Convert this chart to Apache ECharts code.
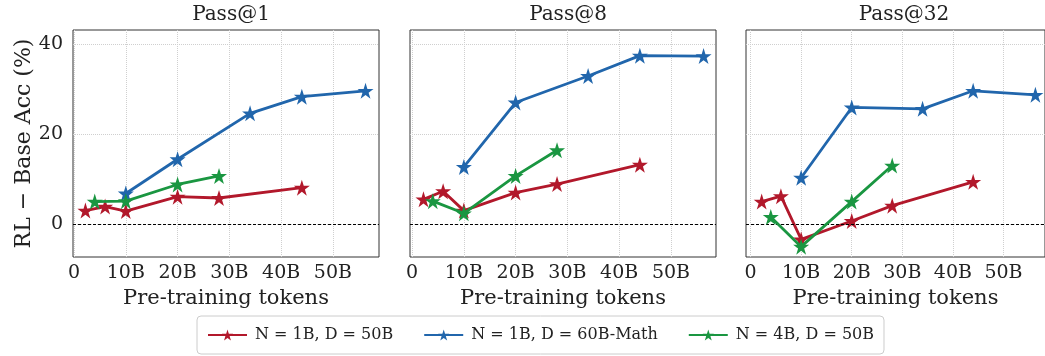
<!DOCTYPE html>
<html>
<head>
<meta charset="utf-8">
<script src="https://cdn.jsdelivr.net/npm/echarts@6/dist/echarts.min.js"></script>
<style>
  html, body { margin: 0; padding: 0; background: #fff; }
  #chart { width: 1045px; height: 356px; }
</style>
</head>
<body>
<div id="chart"></div>
<script>
// pre-training tokens (B) for each run
var xRed = [2.2, 6, 10, 20, 28, 44]
var xBlue = [10, 20, 34, 44, 56.3]
var xGreen = [4, 10, 20, 28]

var panelTitles = ['Pass@1', 'Pass@8', 'Pass@32']
var seriesNames = ['N = 1B, D = 50B', 'N = 1B, D = 60B-Math', 'N = 4B, D = 50B']

// RL - Base Acc (%)
var red1 = [3.0, 3.9, 2.9, 6.1, 5.8, 8.1]
var blue1 = [6.8, 14.4, 24.6, 28.3, 29.6]
var green1 = [5.0, 5.1, 8.8, 10.7]

var red8 = [5.5, 7.3, 3.0, 7.0, 8.9, 13.2]
var blue8 = [12.7, 27.0, 32.9, 37.4, 37.3]
var green8 = [5.1, 2.4, 10.7, 16.4]

var red32 = [5.0, 6.2, -3.4, 0.7, 4.1, 9.4]
var blue32 = [10.3, 25.9, 25.6, 29.6, 28.7]
var green32 = [1.6, -5.0, 5.0, 13.0]

var xTicks = [0, 10, 20, 30, 40, 50]
var yTicks = [0, 20, 40]

var colors = ['#b2182b', '#2166ac', '#1a9641']
var star = 'path://M50,0 L61.2,34.5 L97.6,34.5 L68.2,55.9 L79.4,90.5 L50,69.1 L20.6,90.5 L31.8,55.9 L2.4,34.5 L38.8,34.5 Z'
var font = 'DejaVu Serif'

var chart = echarts.init(document.getElementById('chart'))

var gridLeft = [73, 410, 746]
var xMin = [-0.2, -0.4, -0.9]
var xMax = [58.9, 58.7, 58.2]

function pairs (xs, ys) {
  return xs.map(function (x, i) { return [x, ys[i]] })
}

var panelData = [
  [red1, blue1, green1],
  [red8, blue8, green8],
  [red32, blue32, green32]
]
var xsList = [xRed, xBlue, xGreen]

var grids = []
var xAxes = []
var yAxes = []
var titles = []
var series = []

for (var p = 0; p < 3; p++) {
  grids.push({
    left: gridLeft[p], top: 30, width: 306, height: 227,
    show: true, borderColor: '#333', borderWidth: 1, backgroundColor: '#fff'
  })
  titles.push({
    text: panelTitles[p],
    left: gridLeft[p] + 153,
    top: 0,
    textAlign: 'center',
    textStyle: { fontFamily: font, fontSize: 20, fontWeight: 'normal', color: '#222' }
  })
  xAxes.push({
    type: 'value', gridIndex: p, min: xMin[p], max: xMax[p],
    name: 'Pre-training tokens', nameLocation: 'middle', nameGap: 28,
    nameTextStyle: { fontFamily: font, fontSize: 21, color: '#222' },
    axisLine: { show: false },
    axisTick: { show: false, customValues: xTicks },
    axisLabel: {
      customValues: xTicks, margin: 7,
      fontFamily: font, fontSize: 19, color: '#222',
      formatter: function (v) { return v === 0 ? '0' : v + 'B' }
    },
    splitLine: { show: true, lineStyle: { color: '#cfcfcf', type: 'dotted', width: 1 } }
  })
  yAxes.push({
    type: 'value', gridIndex: p, min: -7.3, max: 43.1,
    name: p === 0 ? 'RL \u2212 Base Acc (%)' : '',
    nameLocation: 'middle', nameGap: 37,
    nameTextStyle: { fontFamily: font, fontSize: 22, color: '#222' },
    axisLine: { show: false },
    axisTick: { show: false, customValues: yTicks },
    axisLabel: {
      show: p === 0, customValues: yTicks, margin: 10,
      fontFamily: font, fontSize: 19, color: '#222'
    },
    splitLine: { show: true, lineStyle: { color: '#cfcfcf', type: 'dotted', width: 1 } }
  })
  for (var s = 0; s < 3; s++) {
    var item = {
      name: seriesNames[s],
      type: 'line',
      xAxisIndex: p, yAxisIndex: p,
      data: pairs(xsList[s], panelData[p][s]),
      symbol: star, symbolSize: 16,
      color: colors[s],
      lineStyle: { width: 2.8, color: colors[s] },
      itemStyle: { color: colors[s] },
      animation: false,
      z: 3 + s
    }
    if (s === 0) {
      // zero reference line
      item.markLine = {
        silent: true, symbol: 'none', label: { show: false },
        lineStyle: { color: '#000', type: [3, 2], width: 1 },
        data: [{ yAxis: 0 }]
      }
    }
    series.push(item)
  }
}

var option = {
  animation: false,
  title: titles,
  grid: grids,
  xAxis: xAxes,
  yAxis: yAxes,
  legend: {
    data: seriesNames,
    left: 197,
    top: 316,
    padding: [11, 10, 11, 10],
    borderColor: '#cccccc',
    borderWidth: 1,
    borderRadius: 4,
    itemWidth: 39,
    itemHeight: 14,
    itemGap: 30,
    textStyle: { fontFamily: font, fontSize: 16, color: '#222', padding: [0, 0, 0, 3] }
  },
  series: series
}

chart.setOption(option)
</script>
</body>
</html>
